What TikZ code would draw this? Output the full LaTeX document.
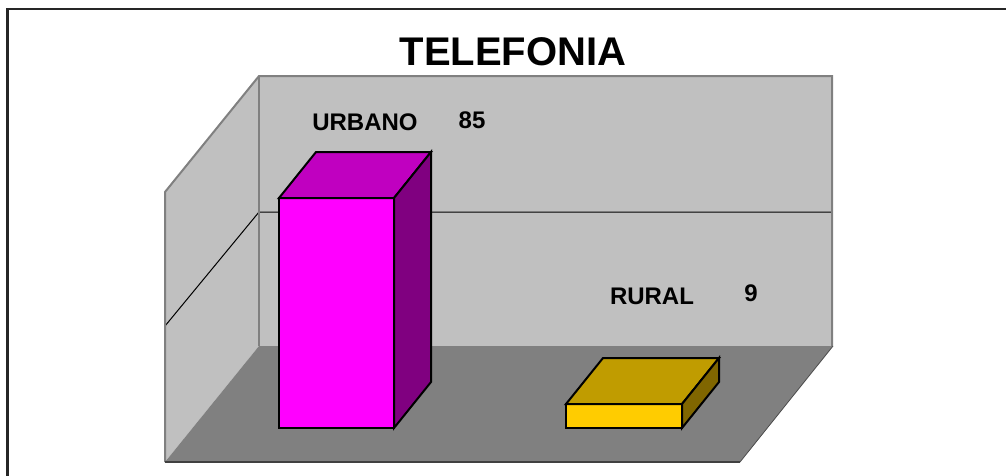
\documentclass[tikz,border=0pt]{standalone}
\usepackage{fontspec}
\setmainfont{Liberation Sans}
\usepackage{tikz}

\definecolor{wallgray}{HTML}{C0C0C0}
\definecolor{floorgray}{HTML}{808080}
\definecolor{urbfront}{HTML}{FF00FF}
\definecolor{urbtop}{HTML}{C000C0}
\definecolor{urbside}{HTML}{800080}
\definecolor{rurfront}{HTML}{FFCC00}
\definecolor{rurtop}{HTML}{C09C00}
\definecolor{rurside}{HTML}{806600}

% box: left, right, top, bottom, front, top, side
\newcommand{\caja}[7]{%
  \filldraw[fill=#5, line width=2pt, line join=miter] (#1,#3) rectangle (#2,#4);
  \filldraw[fill=#6, line width=2pt] (#1,#3) -- (#1+37,#3-46) -- (#2+37,#3-46) -- (#2,#3) -- cycle;
  \filldraw[fill=#7, line width=2pt] (#2,#3) -- (#2+37,#3-46) -- (#2+37,#4-46) -- (#2,#4) -- cycle;}

\begin{document}
\begin{tikzpicture}[x=1pt, y=-1pt,
    lbl/.style={font=\bfseries\fontsize{24}{24}\selectfont, inner sep=0pt}]
      \useasboundingbox (0,0) rectangle (1006,475);
      \clip (0,0) rectangle (1006,475);
      \draw[line width=2.5pt, black!85] (7.5,490) -- (7.5,9) -- (1020,9);
      \fill[wallgray] (259,76) -- (165,192) -- (165,462) -- (259,346) -- cycle;
      \fill[wallgray] (259,76) rectangle (832,346);
      \fill[floorgray] (259,346) -- (833,346) -- (740,462) -- (165,462) -- cycle;
      \draw[line width=1pt] (165,326) -- (259,212) -- (832,212);
      \draw[floorgray, line width=2pt] (165,462) -- (165,192) -- (259,76) -- (832,76) -- (832,346);
      \draw[floorgray, line width=1.5pt] (259,76) -- (259,346);
      \draw[black!75, line width=1.5pt] (165,462) -- (740,462);
      \draw[black!70, line width=0.8pt] (740,462) -- (833,346);
      \caja{279}{394}{198}{428}{urbfront}{urbtop}{urbside}
      \caja{566}{682}{404}{428}{rurfront}{rurtop}{rurside}
      \node[font=\bfseries\fontsize{40}{40}\selectfont, inner sep=0pt] (titulo) at (513,52) {TELEFONIA};
      \node[lbl] (urbano) at (365,122) {URBANO};
      \node[lbl] (urbval) at (472,120) {85};
      \node[lbl] (rural) at (652,296) {RURAL};
      \node[lbl] (rurval) at (751,293) {9};
    \end{tikzpicture}
\end{document}
